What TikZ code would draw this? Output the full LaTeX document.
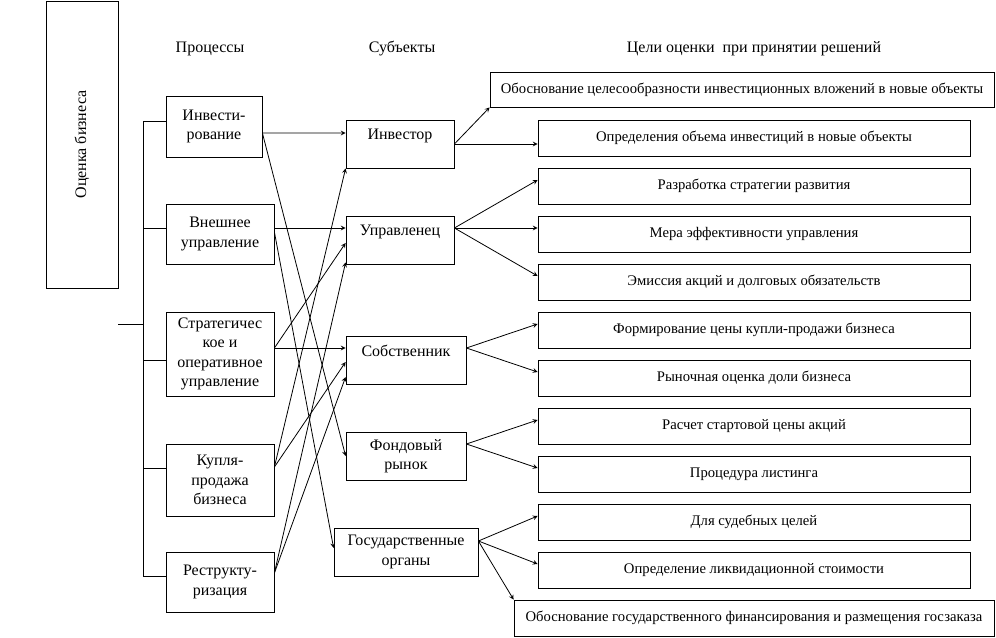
\documentclass[12pt,tikz,border=0pt]{standalone}
\usepackage{fontspec}
\setmainfont{Liberation Serif}
\begin{document}
\begin{tikzpicture}[>=stealth,x=0.75pt,y=-0.75pt,semithick,
  box/.style={draw,align=center,inner sep=2pt},
  goal/.style={draw,minimum width=324pt,minimum height=27pt,inner xsep=1pt,inner ysep=2pt,font=\fontsize{11}{13}\selectfont},
  top/.style={text depth=14pt}]
\useasboundingbox (0,0) rectangle (996,638);

\node[box,minimum width=54pt,minimum height=215.25pt] (ob) at (82,144.5) {\rotatebox{90}{Оценка бизнеса}};

\node (hP) at (210,49) {Процессы};
\node (hS) at (402,49) {Субъекты};
\node (hC) at (754,49) {Цели оценки\ \ при принятии решений};

\node[box,minimum width=72pt,minimum height=45.75pt] (inv) at (214,126.5) {Инвести-\\рование};
\node[box,minimum width=81pt,minimum height=45pt] (vn) at (220,234) {Внешнее\\управление};
\node[box,minimum width=81pt,minimum height=63pt] (st) at (220,354) {Стратегичес\\кое и\\оперативное\\управление};
\node[box,minimum width=81pt,minimum height=54pt] (kp) at (220,480) {Купля-\\продажа\\бизнеса};
\node[box,minimum width=81pt,minimum height=45pt] (rs) at (220,582) {Реструкту-\\ризация};

\node[box,top,minimum width=81pt,minimum height=36pt] (iv) at (400,144) {Инвестор};
\node[box,top,minimum width=81pt,minimum height=36pt] (up) at (400,240) {Управленец};
\node[box,top,minimum width=90pt,minimum height=36pt] (sb) at (406,360) {Собственник};
\node[box,minimum width=90pt,minimum height=36pt] (fd) at (406,456) {Фондовый\\рынок};
\node[box,minimum width=108pt,minimum height=36pt] (gs) at (406,552) {Государственные\\органы};

\node[goal,minimum width=378pt,minimum height=26.25pt] (g1) at (742,89.5) {Обоснование целесообразности инвестиционных вложений в новые объекты};
\node[goal] (g2) at (754,138) {Определения объема инвестиций в новые объекты};
\node[goal] (g3) at (754,186) {Разработка стратегии развития};
\node[goal] (g4) at (754,234) {Мера эффективности управления};
\node[goal] (g5) at (754,282) {Эмиссия акций и долговых обязательств};
\node[goal] (g6) at (754,330) {Формирование цены купли-продажи бизнеса};
\node[goal] (g7) at (754,378) {Рыночная оценка доли бизнеса};
\node[goal] (g8) at (754,426) {Расчет стартовой цены акций};
\node[goal] (g9) at (754,474) {Процедура листинга};
\node[goal] (g10) at (754,522) {Для судебных целей};
\node[goal] (g11) at (754,570) {Определение ликвидационной стоимости};
\node[goal,minimum width=360pt] (g12) at (754,618) {Обоснование государственного финансирования и размещения госзаказа};

\coordinate (bt) at (143,121);
\coordinate (bb) at (143,576);
\coordinate (bm) at (143,324);
\draw (bt -| inv.west) -- (bt) -- (bb) -- (bb -| rs.west);
\draw (bm) -- ++(-25,0);
\draw ([yshift=4.5pt]vn.west) -- ++(-23,0);
\draw ([yshift=-4.5pt]st.west) -- ++(-23,0);
\draw ([yshift=9pt]kp.west) -- ++(-23,0);

\draw[->] ([yshift=-4.9pt]inv.east) -- ([yshift=8.25pt]iv.west);
\draw[->] ([yshift=-4.9pt]inv.east) -- (fd.west);
\draw[->] ([yshift=4.5pt]vn.east) -- ([yshift=9pt]up.west);
\draw[->] ([yshift=1.5pt]vn.east) -- ([yshift=3pt]gs.west);
\draw[->] ([yshift=4.5pt]st.east) -- ([yshift=9pt]sb.west);
\draw[->] ([yshift=4.5pt]st.east) -- ([yshift=-2.25pt]up.west);
\draw[->] ([yshift=9.75pt]kp.east) -- (iv.south west);
\draw[->] ([yshift=9.75pt]kp.east) -- ([yshift=-1.5pt]sb.west);
\draw[->] ([yshift=6.75pt]rs.east) -- ([yshift=1.5pt]up.south west);
\draw[->] ([yshift=6.75pt]rs.east) -- ([yshift=-12.75pt]sb.west);

\draw[->] (iv.east) -- (g1.south west);
\draw[->] (iv.east) -- (iv.east -| g2.west);
\draw[->] ([yshift=9pt]up.east) -- ([yshift=4.5pt]g3.west);
\draw[->] ([yshift=9pt]up.east) -- ([yshift=4.5pt]g4.west);
\draw[->] ([yshift=9pt]up.east) -- ([yshift=4.5pt]g5.west);
\draw[->] ([yshift=9pt]sb.east) -- ([yshift=4.5pt]g6.west);
\draw[->] ([yshift=9pt]sb.east) -- ([yshift=4.5pt]g7.west);
\draw[->] ([yshift=9pt]fd.east) -- ([yshift=4.5pt]g8.west);
\draw[->] ([yshift=9pt]fd.east) -- ([yshift=4.5pt]g9.west);
\draw[->] ([yshift=8.25pt]gs.east) -- ([yshift=4.5pt]g10.west);
\draw[->] ([yshift=8.25pt]gs.east) -- ([yshift=4.5pt]g11.west);
\draw[->] ([yshift=8.25pt]gs.east) -- (g12.north west);
\end{tikzpicture}
\end{document}
